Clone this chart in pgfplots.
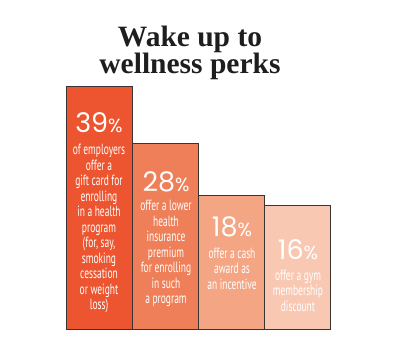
\documentclass[border=0pt]{standalone}
\usepackage{fontspec}
\setmainfont{Liberation Serif}
\newfontfamily\pct{Poppins}
\newfontfamily\cond[FakeStretch=0.64]{PT Sans}
\usepackage{pgfplots}
\pgfplotsset{compat=1.18}
\definecolor{cA}{HTML}{EC5530}
\definecolor{cB}{HTML}{EF7F58}
\definecolor{cC}{HTML}{F4A584}
\definecolor{cD}{HTML}{F9C8B2}
\definecolor{bord}{HTML}{3A3330}
\definecolor{ttl}{HTML}{1E1E1E}
\begin{document}
\begin{tikzpicture}
\path[use as bounding box] (0pt,0pt) rectangle (403pt,355pt);
\begin{axis}[
  at={(66pt,25pt)}, anchor=south west,
  scale only axis, width=264pt, height=244pt,
  xmin=-0.5, xmax=3.5, ymin=0, ymax=47,
  hide axis, clip=false,
]
\addplot[ybar, bar width=66pt, bar shift=0pt, fill=cA, draw=bord, line width=1pt] table[x=x, y expr=\thisrow{v}+8] {
x v
0 39
};
\addplot[ybar, bar width=66pt, bar shift=0pt, fill=cB, draw=bord, line width=1pt] table[x=x, y expr=\thisrow{v}+8] {
x v
1 28
};
\addplot[ybar, bar width=66pt, bar shift=0pt, fill=cC, draw=bord, line width=1pt] table[x=x, y expr=\thisrow{v}+8] {
x v
2 18
};
\addplot[ybar, bar width=66pt, bar shift=0pt, fill=cD, draw=bord, line width=1pt] table[x=x, y expr=\thisrow{v}+8] {
x v
3 16
};
\end{axis}
% title
\node[anchor=center, align=center, text=ttl, font=\fontsize{29.5}{26}\selectfont\bfseries, inner sep=0pt] at (190pt,302pt) {Wake up to\\wellness perks};
% percentages
\tikzset{pc/.style={text=white, inner sep=0pt, anchor=center, font=\pct\fontsize{27}{27}\selectfont},
         ds/.style={text=white, inner sep=0pt, anchor=center, align=center, font=\cond\fontsize{14.8}{15.5}\selectfont}}
\node[pc] at (99pt,232pt) {39{\fontsize{19}{19}\selectfont\%}};
\node[pc] at (166pt,173pt) {28{\fontsize{19}{19}\selectfont\%}};
\node[pc] at (232pt,128pt) {18{\fontsize{19}{19}\selectfont\%}};
\node[pc] at (298pt,105pt) {16{\fontsize{19}{19}\selectfont\%}};
\node[ds] at (99pt,126.5pt) {of employers\\offer a\\gift card for\\enrolling\\in a health\\program\\(for, say,\\smoking\\cessation\\or weight\\loss)};
\node[ds] at (166pt,101.5pt) {offer a lower\\health\\insurance\\premium\\for enrolling\\in such\\a program};
\node[ds] at (232pt,86.5pt) {offer a cash\\award as\\an incentive};
\node[ds] at (298pt,64.5pt) {offer a gym\\membership\\discount};
\end{tikzpicture}
\end{document}
